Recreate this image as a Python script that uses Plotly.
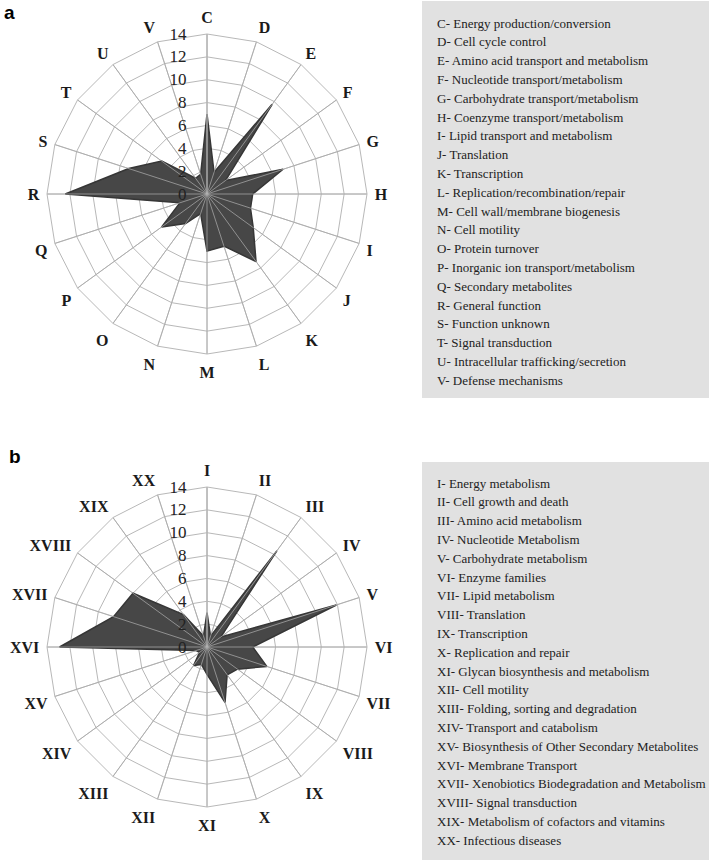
import plotly.graph_objects as go

# ---------------------------------------------------------------------------
# Data
# ---------------------------------------------------------------------------
cog_letters = ["C", "D", "E", "F", "G", "H", "I", "J", "K", "L",
               "M", "N", "O", "P", "Q", "R", "S", "T", "U", "V"]
cog_counts = [7, 2, 9.7, 2, 7, 4, 4, 5, 7.3, 4.8,
              5, 1.8, 3.2, 4.9, 2.5, 12.4, 7.2, 4.9, 1.7, 1.8]
cog_names = [
    "Energy production/conversion", "Cell cycle control",
    "Amino acid transport and metabolism", "Nucleotide transport/metabolism",
    "Carbohydrate transport/metabolism", "Coenzyme transport/metabolism",
    "Lipid transport and metabolism", "Translation", "Transcription",
    "Replication/recombination/repair", "Cell wall/membrane biogenesis",
    "Cell motility", "Protein turnover", "Inorganic ion transport/metabolism",
    "Secondary metabolites", "General function", "Function unknown",
    "Signal transduction", "Intracellular trafficking/secretion",
    "Defense mechanisms",
]

kegg_numerals = ["I", "II", "III", "IV", "V", "VI", "VII", "VIII", "IX", "X",
                 "XI", "XII", "XIII", "XIV", "XV", "XVI", "XVII", "XVIII",
                 "XIX", "XX"]
kegg_counts = [3, 1, 10.4, 1.5, 11.9, 4, 5.5, 3.3, 3, 5.1,
               2.4, 1.6, 2, 0.8, 1, 12.9, 8.6, 8.0, 3.5, 1]
kegg_names = [
    "Energy metabolism", "Cell growth and death", "Amino acid metabolism",
    "Nucleotide Metabolism", "Carbohydrate metabolism", "Enzyme families",
    "Lipid metabolism", "Translation", "Transcription",
    "Replication and repair", "Glycan biosynthesis and metabolism",
    "Cell motility", "Folding, sorting and degradation",
    "Transport and catabolism", "Biosynthesis of Other Secondary Metabolites",
    "Membrane Transport", "Xenobiotics Biodegradation and Metabolism",
    "Signal transduction", "Metabolism of cofactors and vitamins",
    "Infectious diseases",
]

radial_ticks = [0, 2, 4, 6, 8, 10, 12, 14]

# ---------------------------------------------------------------------------
# Figure
# ---------------------------------------------------------------------------
W, H = 709, 861
SERIF = "Liberation Serif"
GRID = "#b8b8b8"
R_MAX = 14


def px_x(v):
    return v / W


def px_y(v):
    return 1 - v / H


fig = go.Figure()

for cats, vals, polar in [(cog_letters, cog_counts, "polar"),
                          (kegg_numerals, kegg_counts, "polar2")]:
    fig.add_trace(go.Scatterpolar(
        r=vals + vals[:1],
        theta=cats + cats[:1],
        mode="lines",
        fill="toself",
        fillcolor="#474747",
        line=dict(color="#363636", width=1.5),
        subplot=polar,
        showlegend=False,
        hoverinfo="skip",
    ))
    # spokes drawn again on top so they show through the filled area
    spoke_r, spoke_t = [], []
    for c in cats:
        spoke_r += [0, R_MAX, None]
        spoke_t += [c, c, None]
    fig.add_trace(go.Scatterpolar(
        r=spoke_r,
        theta=spoke_t,
        mode="lines",
        line=dict(color="rgba(170,170,170,0.75)", width=1),
        subplot=polar,
        showlegend=False,
        hoverinfo="skip",
    ))


def polar_layout(cx, cy, rad, cats):
    return dict(
        domain=dict(x=[px_x(cx - rad), px_x(cx + rad)],
                    y=[px_y(cy + rad), px_y(cy - rad)]),
        bgcolor="white",
        gridshape="linear",
        angularaxis=dict(
            categoryorder="array",
            categoryarray=cats,
            rotation=90,
            direction="clockwise",
            showgrid=True,
            gridcolor=GRID,
            gridwidth=1,
            linecolor=GRID,
            linewidth=1,
            layer="above traces",
            ticks="outside",
            ticklen=4,
            tickcolor="rgba(0,0,0,0)",
            tickfont=dict(family=SERIF, size=16, color="#1a1a1a",
                          weight="bold"),
        ),
        radialaxis=dict(
            range=[0, R_MAX],
            tickvals=radial_ticks,
            angle=90,
            side="counterclockwise",
            showline=True,
            linecolor=GRID,
            linewidth=1,
            gridcolor=GRID,
            gridwidth=1,
            layer="above traces",
            ticks="outside",
            ticklen=14,
            tickcolor="rgba(0,0,0,0)",
            tickangle=90,
            tickfont=dict(family=SERIF, size=17, color="#222"),
        ),
    )


fig.update_layout(
    width=W,
    height=H,
    margin=dict(l=0, r=0, t=0, b=0),
    paper_bgcolor="white",
    plot_bgcolor="white",
    polar=polar_layout(207, 194, 160, cog_letters),
    polar2=polar_layout(207, 647, 160, kegg_numerals),
)

# legend boxes with descriptions
boxes = [
    (1, 398, 23, cog_letters, cog_names),
    (462, 860, 483, kegg_numerals, kegg_names),
]
for top, bottom, first_y, keys, names in boxes:
    fig.add_shape(type="rect", xref="paper", yref="paper",
                  x0=px_x(422), x1=px_x(709), y0=px_y(bottom), y1=px_y(top),
                  fillcolor="#e1e1e1", line=dict(width=0), layer="below")
    for i, (k, n) in enumerate(zip(keys, names)):
        fig.add_annotation(
            x=px_x(435), y=px_y(first_y + i * 18.8),
            xref="paper", yref="paper", xanchor="left", yanchor="middle",
            text=f"{k}- {n}", showarrow=False,
            font=dict(family=SERIF, size=13, color="#222"),
        )

# panel letters
for letter, x, y in [("a", 9, 13), ("b", 15, 456)]:
    fig.add_annotation(
        x=px_x(x), y=px_y(y), xref="paper", yref="paper",
        xanchor="center", yanchor="middle", text=f"<b>{letter}</b>",
        showarrow=False,
        font=dict(family="Liberation Sans", size=19, color="black"),
    )

# page body has a default 8px margin; remove it so the figure sits at 0,0
fig.write_html(
    "out.html",
    config={"displayModeBar": False},
    post_script="document.body.style.margin='0px';"
                "document.body.style.overflow='hidden';",
)
